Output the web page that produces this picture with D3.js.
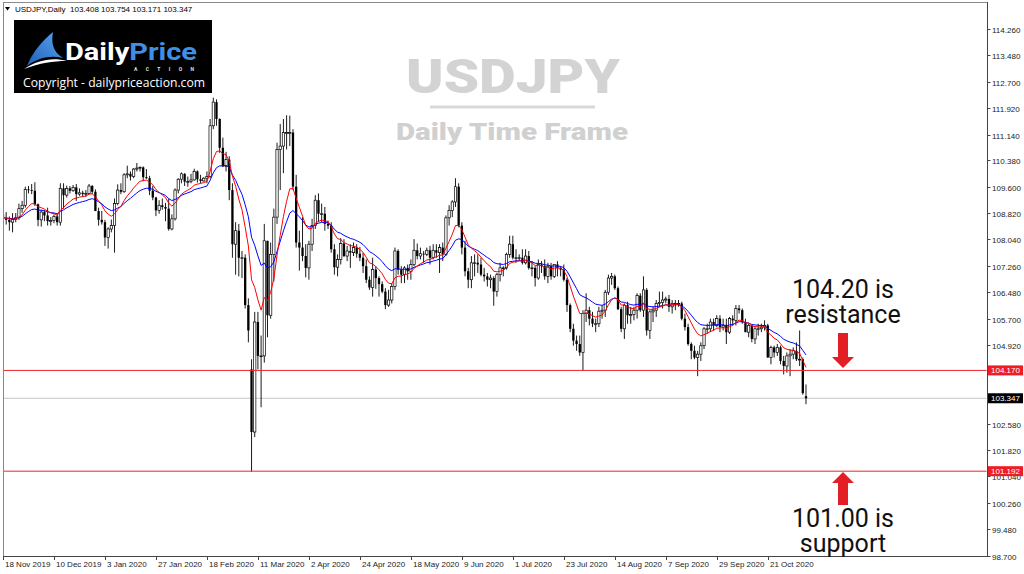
<!DOCTYPE html>
<html><head><meta charset="utf-8">
<script src="https://cdnjs.cloudflare.com/ajax/libs/d3/7.8.5/d3.min.js"></script>
<style>html,body{margin:0;padding:0;background:#fff;} svg{display:block;}</style>
</head><body>
<svg id="chart" width="1024" height="574"></svg>
<script>
// ---------- DATA ----------
const symbolLabel = "USDJPY,Daily";
const lastOHLC = ["103.408", "103.754", "103.171", "103.347"];
const firstDay = "2019-11-18";
const lastDay = "2020-11-06";
const holidays = ["2019-12-25", "2020-01-01"];

const opens = [
108.80,108.68,108.62,108.55,108.63,108.68,108.95,109.05,109.52,109.50,
109.48,109.08,108.62,108.85,108.75,108.58,108.60,108.72,108.55,109.55,
109.35,109.55,109.48,109.58,109.38,109.42,109.38,109.40,109.62,109.45,
108.88,108.62,108.55,108.10,108.35,108.45,109.10,109.50,109.45,109.95,
109.98,109.90,110.12,110.15,110.17,109.88,109.85,109.48,109.28,108.90,
109.05,109.00,108.95,108.35,108.65,109.50,109.82,109.98,109.75,109.75,
109.80,110.05,109.82,109.77,109.85,109.90,111.40,112.10,111.60,110.75,
110.20,110.40,109.50,107.90,108.30,107.50,107.50,106.10,104.20,102.35,
105.60,104.60,104.60,108.00,105.80,107.60,108.70,110.70,110.80,111.20,
111.20,111.20,109.60,107.95,107.80,107.55,107.20,107.90,108.45,109.20,
108.80,108.80,108.50,108.45,107.75,107.22,107.45,107.92,107.55,107.70,
107.65,107.80,107.62,107.50,107.25,106.85,106.62,107.15,106.90,106.72,
106.50,106.10,106.25,106.65,107.70,107.15,107.00,107.20,107.10,107.30,
107.72,107.55,107.62,107.60,107.72,107.50,107.72,107.65,107.80,107.60,
108.68,108.90,109.15,109.60,108.45,107.80,107.10,106.85,107.35,107.35,
107.30,107.00,106.95,106.85,106.90,106.50,107.00,107.20,107.20,107.60,
107.90,107.50,107.50,107.50,107.35,107.55,107.20,107.20,106.90,107.30,
107.25,106.95,107.25,106.95,107.30,107.20,107.15,106.85,106.10,105.40,
105.05,104.95,104.70,105.85,105.95,105.70,105.55,105.55,105.92,105.95,
106.48,106.90,106.95,106.60,105.98,105.40,106.10,105.80,105.82,105.95,
106.38,105.95,106.55,105.35,105.90,105.95,106.15,106.18,106.25,106.28,
106.05,106.15,106.15,106.15,105.70,105.45,104.95,104.75,104.55,104.65,
104.90,105.40,105.40,105.60,105.50,105.70,105.45,105.50,105.30,105.70,
105.65,106.00,105.95,105.60,105.30,105.50,105.10,105.40,105.40,105.45,
105.50,104.55,104.85,104.70,104.85,104.45,104.30,104.60,104.65,104.75,
104.50,104.50,103.408];

const highs = [
108.92,108.85,108.72,108.82,108.82,109.10,109.18,109.60,109.62,109.68,
109.73,109.10,108.92,108.90,108.98,108.70,108.78,108.80,109.70,109.70,
109.63,109.62,109.65,109.68,109.55,109.48,109.50,109.68,109.65,109.52,
108.98,108.88,108.62,108.40,108.63,109.25,109.67,109.70,110.00,110.22,
110.05,110.15,110.30,110.20,110.20,110.12,109.92,109.62,109.30,109.20,
109.25,109.12,109.25,108.78,109.55,109.85,110.02,110.00,109.90,109.98,
110.13,110.08,109.95,109.88,110.05,111.60,112.23,112.18,111.62,111.05,
110.63,110.50,109.70,108.55,108.50,107.70,107.60,106.30,104.50,105.90,
105.90,105.20,108.50,108.00,107.95,108.95,110.90,111.45,111.60,111.71,
111.70,111.30,109.95,108.30,108.70,107.90,108.00,108.65,109.35,109.40,
109.10,109.00,108.60,108.55,107.90,107.60,108.08,108.05,107.85,107.90,
107.95,107.90,107.82,107.65,107.45,106.95,107.50,107.25,106.95,106.80,
106.60,106.55,106.75,107.80,107.75,107.25,107.25,107.30,107.45,108.05,
107.92,107.80,107.70,107.80,107.85,107.90,107.90,107.90,107.95,108.75,
109.05,109.20,109.85,109.70,108.55,108.00,107.20,107.55,107.60,107.60,
107.50,107.20,107.05,107.00,106.95,107.05,107.35,107.25,107.65,108.15,
108.15,107.75,107.60,107.75,107.75,107.70,107.40,107.25,107.45,107.40,
107.45,107.35,107.35,107.30,107.40,107.25,107.30,106.90,106.15,105.55,
105.20,105.20,105.95,106.45,106.05,105.90,105.70,106.05,106.10,106.55,
107.00,107.05,107.00,106.65,106.05,106.15,106.20,106.05,106.05,106.45,
106.45,106.95,106.60,105.95,106.05,106.25,106.50,106.50,106.35,106.40,
106.25,106.25,106.25,106.20,105.85,105.55,105.00,104.90,104.75,105.00,
105.45,105.55,105.70,105.70,105.80,105.80,105.70,105.70,105.75,105.80,
106.10,106.10,106.00,105.70,105.55,105.50,105.45,105.55,105.55,105.65,
105.55,104.90,104.90,104.95,104.90,104.60,104.70,104.80,104.85,105.00,
105.35,104.55,103.754];

const lows = [
108.52,108.48,108.30,108.25,108.55,108.62,108.83,108.98,109.40,109.38,
109.03,108.43,108.42,108.58,108.45,108.45,108.52,108.45,108.45,108.95,
109.28,109.40,109.45,109.18,109.33,109.30,109.30,109.38,109.38,108.88,
108.45,108.48,107.85,107.77,108.25,107.65,109.05,109.38,109.42,109.85,
109.78,109.85,110.05,110.05,109.76,109.83,109.35,109.20,108.73,108.80,
108.92,108.58,108.30,108.31,108.60,109.40,109.70,109.62,109.60,109.70,
109.78,109.72,109.70,109.75,109.70,109.85,111.30,111.40,110.60,110.18,
110.05,109.20,107.50,107.00,106.95,106.90,106.00,105.00,101.18,102.20,
104.20,103.08,104.40,105.15,105.70,106.80,108.50,109.50,110.00,110.70,
110.80,109.50,107.80,107.12,107.40,106.92,106.85,107.70,108.35,108.55,
108.55,108.30,108.35,107.65,107.00,106.95,107.30,107.52,107.40,107.20,
107.55,107.50,107.40,107.05,106.75,106.55,106.35,106.58,106.35,106.45,
105.98,106.05,106.15,106.55,107.00,106.75,106.75,106.85,106.85,107.25,
107.45,107.45,107.35,107.55,107.30,107.45,107.50,107.05,107.40,107.55,
108.45,108.70,109.00,108.40,107.60,106.95,106.60,106.60,106.95,107.05,
106.95,106.80,106.65,106.60,106.08,106.35,106.80,106.95,107.15,107.50,
107.45,107.35,107.40,107.30,107.30,107.15,106.95,106.65,106.85,107.05,
106.85,106.75,106.85,106.90,106.95,106.95,106.80,105.90,105.30,104.90,
104.75,104.60,104.18,105.60,105.50,105.45,105.30,105.45,105.70,105.75,
106.40,106.70,106.55,105.95,105.30,105.10,105.55,105.55,105.65,105.70,
105.90,105.75,105.20,105.10,105.60,105.75,106.05,106.00,106.15,105.90,
105.85,105.95,106.05,105.65,105.35,104.90,104.50,104.50,104.00,104.45,
104.80,105.25,105.30,105.35,105.45,105.30,105.35,104.95,105.25,105.50,
105.50,105.85,105.55,105.30,105.15,105.00,104.95,105.20,105.30,105.35,
104.55,104.35,104.55,104.60,104.35,104.05,104.10,104.00,104.50,104.45,
104.30,103.45,103.171];

const closes = [
108.68,108.62,108.55,108.63,108.68,108.95,109.05,109.52,109.50,109.48,
109.08,108.62,108.85,108.75,108.58,108.60,108.72,108.55,109.55,109.35,
109.55,109.48,109.58,109.38,109.42,109.38,109.40,109.62,109.45,108.88,
108.62,108.55,108.10,108.35,108.45,109.10,109.50,109.45,109.95,109.98,
109.90,110.12,110.15,110.17,109.88,109.85,109.48,109.28,108.90,109.05,
109.00,108.95,108.35,108.65,109.50,109.82,109.98,109.75,109.75,109.80,
110.05,109.82,109.77,109.85,109.90,111.40,112.10,111.60,110.75,110.20,
110.40,109.50,107.90,108.30,107.50,107.50,106.10,105.35,102.35,105.60,
104.60,104.60,108.00,105.80,107.60,108.70,110.70,110.80,111.20,111.20,
111.20,109.60,107.95,107.80,107.55,107.20,107.90,108.45,109.20,108.80,
108.80,108.50,108.45,107.75,107.22,107.45,107.92,107.55,107.70,107.65,
107.80,107.62,107.50,107.25,106.85,106.62,107.15,106.90,106.72,106.50,
106.10,106.25,106.65,107.70,107.15,107.00,107.20,107.10,107.30,107.72,
107.55,107.62,107.60,107.72,107.50,107.72,107.65,107.80,107.60,108.68,
108.90,109.15,109.60,108.45,107.80,107.10,106.85,107.35,107.35,107.30,
107.00,106.95,106.85,106.90,106.50,107.00,107.20,107.20,107.60,107.90,
107.50,107.50,107.50,107.35,107.55,107.20,107.20,106.90,107.30,107.25,
106.95,107.25,106.95,107.30,107.20,107.15,106.85,106.10,105.40,105.05,
104.95,104.70,105.85,105.95,105.70,105.55,105.55,105.92,105.95,106.48,
106.90,106.95,106.60,105.98,105.40,106.10,105.80,105.82,105.95,106.38,
105.95,106.55,105.35,105.90,105.95,106.15,106.18,106.25,106.28,106.05,
106.15,106.15,106.15,105.70,105.45,104.95,104.75,104.55,104.65,104.90,
105.40,105.40,105.60,105.50,105.70,105.45,105.50,105.30,105.70,105.65,
106.00,105.95,105.60,105.30,105.50,105.10,105.40,105.40,105.45,105.50,
104.55,104.85,104.70,104.85,104.45,104.30,104.60,104.65,104.75,104.50,
104.50,103.50,103.347];

const timeTickDates = ["2019-11-18","2019-12-10","2020-01-03","2020-01-27","2020-02-18","2020-03-11","2020-04-02","2020-04-24","2020-05-18","2020-06-09","2020-07-01","2020-07-23","2020-08-14","2020-09-07","2020-09-29","2020-10-21"];
const timeTickLabels = ["18 Nov 2019","10 Dec 2019","3 Jan 2020","27 Jan 2020","18 Feb 2020","11 Mar 2020","2 Apr 2020","24 Apr 2020","18 May 2020","9 Jun 2020","1 Jul 2020","23 Jul 2020","14 Aug 2020","7 Sep 2020","29 Sep 2020","21 Oct 2020"];
const priceTicks = [114.260,113.480,112.700,111.920,111.140,110.380,109.600,108.820,108.040,107.260,106.480,105.700,104.920,102.580,101.820,101.040,100.260,99.480,98.700];
const resistanceLevel = 104.170;
const supportLevel = 101.192;
const bidLevel = 103.347;
const emaFastPeriod = 10;
const emaSlowPeriod = 20;
const resistanceNote = ["104.20 is", "resistance"];
const supportNote = ["101.00 is", "support"];

// ---------- CHART ----------
const svg = d3.select("#chart");
const W = 1024, H = 574;
const plot = {left: 3, top: 2, right: 987, bottom: 556};
const fmt = d3.timeFormat("%Y-%m-%d");
const parse = d3.timeParse("%Y-%m-%d");

const dates = d3.timeDay.range(parse(firstDay), d3.timeDay.offset(parse(lastDay), 1))
  .filter(d => d.getDay() !== 0 && d.getDay() !== 6 && !holidays.includes(fmt(d)))
  .map(fmt);

const candles = dates.map((d, i) => ({date: d, o: opens[i], h: highs[i], l: lows[i], c: closes[i]}));

const x = d3.scalePoint().domain(dates).range([3, 3 + (dates.length - 1) * 3.1865]);
const y = d3.scaleLinear().domain([98.70, 114.26]).range([555.5, 29]);

function ema(values, period) {
  const k = 2 / (period + 1);
  let prev = values[0];
  return values.map((v, i) => (prev = i === 0 ? v : v * k + prev * (1 - k)));
}
const emaFast = ema(closes, emaFastPeriod);
const emaSlow = ema(closes, emaSlowPeriod);

svg.append("rect").attr("width", W).attr("height", H).attr("fill", "#fff");

const defs = svg.append("defs");
defs.append("clipPath").attr("id", "clip")
  .append("rect").attr("x", plot.left + 0.5).attr("y", plot.top + 0.5)
  .attr("width", plot.right - plot.left - 1).attr("height", plot.bottom - plot.top - 1);

// watermark titles
svg.append("text").attr("x", 513).attr("y", 93).attr("text-anchor", "middle")
  .attr("font-family", "Roboto, 'Open Sans', sans-serif").attr("font-weight", 900)
  .attr("font-size", 49).attr("fill", "#d3d3d3")
  .attr("textLength", 214).attr("lengthAdjust", "spacingAndGlyphs").text("USDJPY");
svg.append("line").attr("x1", 430).attr("x2", 595).attr("y1", 107).attr("y2", 107)
  .attr("stroke", "#d9d9d9").attr("stroke-width", 3);
svg.append("text").attr("x", 512).attr("y", 140).attr("text-anchor", "middle")
  .attr("font-family", "Roboto, 'Open Sans', sans-serif").attr("font-weight", 900)
  .attr("font-size", 24).attr("fill", "#d0d0d0")
  .attr("textLength", 232).attr("lengthAdjust", "spacingAndGlyphs").text("Daily Time Frame");

const g = svg.append("g").attr("clip-path", "url(#clip)");

// bid line
g.append("line").attr("x1", plot.left).attr("x2", plot.right)
  .attr("y1", y(bidLevel)).attr("y2", y(bidLevel)).attr("stroke", "#c4c4c4").attr("stroke-width", 1);

// candles
const cg = g.append("g");
cg.selectAll("line.wick").data(candles).join("line").attr("class", "wick")
  .attr("x1", d => x(d.date)).attr("x2", d => x(d.date))
  .attr("y1", d => y(d.h)).attr("y2", d => y(d.l))
  .attr("stroke", "#000").attr("stroke-width", 0.9);
const bw = 2.3;
cg.selectAll("rect.body").data(candles).join("rect").attr("class", "body")
  .attr("x", d => x(d.date) - bw / 2)
  .attr("y", d => y(Math.max(d.o, d.c)))
  .attr("width", bw)
  .attr("height", d => Math.max(0.8, Math.abs(y(d.o) - y(d.c))))
  .attr("fill", d => d.c >= d.o ? "#ffffff" : "#000000")
  .attr("stroke", "#000").attr("stroke-width", d => d.c >= d.o ? 0.7 : 0);

// EMAs
const lineGen = arr => d3.line().x((d, i) => x(dates[i])).y(d => y(d))(arr);
g.append("path").attr("d", lineGen(emaSlow)).attr("fill", "none").attr("stroke", "#0000ff").attr("stroke-width", 1);
g.append("path").attr("d", lineGen(emaFast)).attr("fill", "none").attr("stroke", "#ff0000").attr("stroke-width", 1);

// red levels
[resistanceLevel, supportLevel].forEach(v => {
  g.append("line").attr("x1", plot.left).attr("x2", plot.right)
    .attr("y1", y(v)).attr("y2", y(v)).attr("stroke", "#e8262d").attr("stroke-width", 1);
});

// frame
svg.append("rect").attr("x", plot.left + 0.5).attr("y", plot.top + 0.5)
  .attr("width", plot.right - plot.left).attr("height", plot.bottom - plot.top)
  .attr("fill", "none").attr("stroke", "#8a8a8a");
svg.append("line").attr("x1", plot.right + 0.5).attr("x2", plot.right + 0.5)
  .attr("y1", plot.top).attr("y2", plot.bottom + 1).attr("stroke", "#444");
svg.append("line").attr("x1", plot.left).attr("x2", plot.right + 1)
  .attr("y1", plot.bottom + 0.5).attr("y2", plot.bottom + 0.5).attr("stroke", "#444");

const axisFont = "'Liberation Sans', Arial, sans-serif";

// price axis
const pa = svg.append("g");
priceTicks.forEach(v => {
  const yy = Math.round(y(v)) + 0.5;
  pa.append("line").attr("x1", plot.right).attr("x2", plot.right + 3.5).attr("y1", yy).attr("y2", yy).attr("stroke", "#444");
  pa.append("text").attr("x", 992).attr("y", yy + 3).attr("font-family", axisFont)
    .attr("font-size", 8).attr("fill", "#222").text(v.toFixed(3));
});
function priceTag(v, color) {
  const yy = y(v);
  pa.append("rect").attr("x", 988).attr("y", yy - 5).attr("width", 35).attr("height", 10).attr("fill", color);
  pa.append("text").attr("x", 991).attr("y", yy + 3).attr("font-family", axisFont)
    .attr("font-size", 8).attr("fill", "#fff").text(v.toFixed(3));
}
priceTag(resistanceLevel, "#ee1c25");
priceTag(supportLevel, "#ee1c25");
priceTag(bidLevel, "#000");

// time axis
const ta = svg.append("g");
timeTickDates.forEach((d, i) => {
  const xx = Math.round(x(d)) + 0.5;
  ta.append("line").attr("x1", xx).attr("x2", xx).attr("y1", plot.bottom).attr("y2", plot.bottom + 4).attr("stroke", "#444");
  ta.append("text").attr("x", xx + 1.5).attr("y", 567).attr("font-family", axisFont)
    .attr("font-size", 8).attr("fill", "#222").text(timeTickLabels[i]);
});

// header
svg.append("path").attr("d", "M5,7 L10,7 L7.5,10.5 Z").attr("fill", "#000");
svg.append("text").attr("x", 15).attr("y", 12).attr("font-family", axisFont).attr("font-size", 8)
  .attr("fill", "#000").attr("xml:space", "preserve")
  .text(symbolLabel + "  " + lastOHLC.join(" "));

// logo
const logo = svg.append("g");
logo.append("rect").attr("x", 14).attr("y", 20).attr("width", 198).attr("height", 73).attr("fill", "#000");
const grad = defs.append("linearGradient").attr("id", "wing").attr("x1", 0).attr("y1", 1).attr("x2", 1).attr("y2", 0);
grad.append("stop").attr("offset", "0%").attr("stop-color", "#1d5fb8");
grad.append("stop").attr("offset", "100%").attr("stop-color", "#5aa6f0");
logo.append("path").attr("d", "M27,66 C32,53 42,41 53,32 C51,43 53,52 63,58 C50,55 38,58 27,66 Z").attr("fill", "url(#wing)");
logo.append("path").attr("d", "M24,69 C38,60 52,57 67,61 C53,61 40,63 24,69 Z").attr("fill", "#fff");
logo.append("text").attr("x", 65).attr("y", 59.5).attr("font-family", "Roboto, 'Open Sans', sans-serif")
  .attr("font-weight", 700).attr("font-size", 24.5).attr("textLength", 132).attr("lengthAdjust", "spacingAndGlyphs")
  .call(t => {
    t.append("tspan").attr("fill", "#fff").text("Daily");
    t.append("tspan").attr("fill", "#3f8fe6").text("Price");
  });
logo.append("text").attr("x", 134).attr("y", 71).attr("font-family", "Roboto, sans-serif").attr("font-weight", 700)
  .attr("font-size", 5).attr("fill", "#e0e0e0").attr("textLength", 60).attr("lengthAdjust", "spacing").text("ACTION");
logo.append("text").attr("x", 23).attr("y", 87).attr("font-family", "'Open Sans', sans-serif")
  .attr("font-size", 12.5).attr("fill", "#fff").attr("textLength", 182).attr("lengthAdjust", "spacingAndGlyphs")
  .text("Copyright - dailypriceaction.com");

// annotations (two-line labels as one text each)
const annFont = "Roboto, 'Open Sans', sans-serif";
function ann(lines, y0, gap) {
  const t = svg.append("text").attr("text-anchor", "middle").attr("font-family", annFont)
    .attr("font-size", 25).attr("fill", "#111");
  lines.forEach((s, i) => t.append("tspan").attr("x", 843).attr("y", y0 + i * gap).text(s));
}
ann(resistanceNote, 298, 25);
ann(supportNote, 527, 25);
svg.append("path").attr("d", "M838,333 L848,333 L848,357 L854,357 L843,368 L832,357 L838,357 Z").attr("fill", "#e31e24");
svg.append("path").attr("d", "M838,505 L848,505 L848,483 L854,483 L843,472 L832,483 L838,483 Z").attr("fill", "#e31e24");
</script>
</body></html>
